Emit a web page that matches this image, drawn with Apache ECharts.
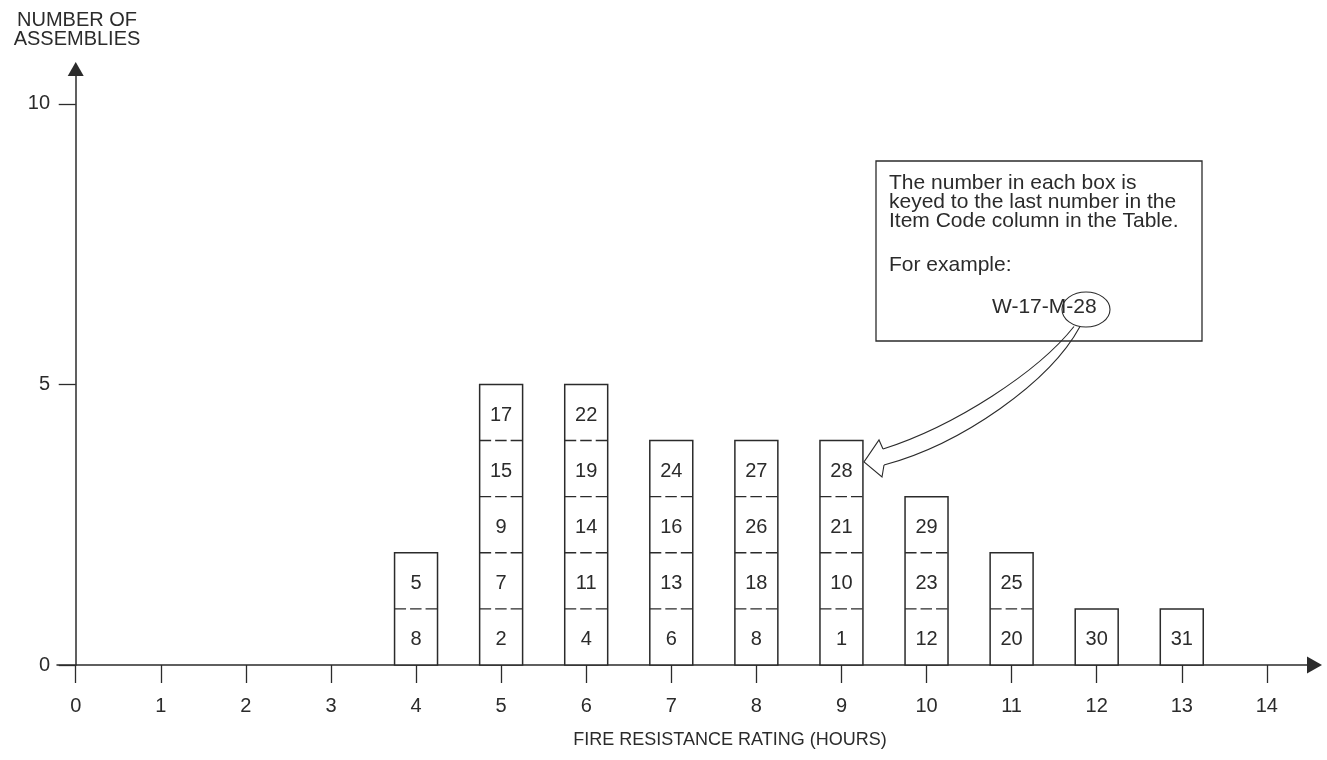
<!DOCTYPE html>
<html>
<head>
<meta charset="utf-8">
<script src="https://cdn.jsdelivr.net/npm/echarts@6/dist/echarts.min.js"></script>
<style>
  html, body { margin: 0; padding: 0; background: #fff; }
  #chart { width: 1327px; height: 760px; }
</style>
</head>
<body>
<div id="chart"></div>
<script>
// fire resistance rating (hours) of each column
var hours = [4, 5, 6, 7, 8, 9, 10, 11, 12, 13];
// numbers written in the boxes, bottom box first
var boxNumbers = [
  [8, 5],
  [2, 7, 9, 15, 17],
  [4, 11, 14, 19, 22],
  [6, 13, 16, 24],
  [8, 18, 26, 27],
  [1, 10, 21, 28],
  [12, 23, 29],
  [20, 25],
  [30],
  [31]
];
var xTicks = [0, 1, 2, 3, 4, 5, 6, 7, 8, 9, 10, 11, 12, 13, 14];
var yTicks = [0, 5, 10];

var FONT = '"Liberation Sans", Arial, Helvetica, sans-serif';
var INK = '#2b2b2b';

var chart = echarts.init(document.getElementById('chart'));

// one column of stacked boxes per rating
function renderBoxes(params, api) {
  var x = api.value(0);
  var n = api.value(1);
  var nums = boxNumbers[params.dataIndex];
  var w = api.size([0.505, 0])[0];
  var base = api.coord([x, 0]);
  var top = api.coord([x, n]);
  var left = base[0] - w / 2;
  var kids = [{
    type: 'rect',
    shape: { x: left, y: top[1], width: w, height: base[1] - top[1] },
    style: { fill: '#fff', stroke: INK, lineWidth: 1.5 }
  }];
  for (var i = 1; i < n; i++) {
    var p = api.coord([x, i]);
    kids.push({
      type: 'line',
      shape: { x1: left, y1: p[1], x2: left + w, y2: p[1] },
      style: { stroke: INK, lineWidth: 1.3, lineDash: [11.5, 4] }
    });
  }
  for (i = 0; i < n; i++) {
    var c = api.coord([x, i + 0.5]);
    kids.push({
      type: 'text',
      x: c[0], y: c[1] + 3,
      style: { text: String(nums[i]), fill: INK, font: '20px ' + FONT, align: 'center', verticalAlign: 'middle' }
    });
  }
  return { type: 'group', children: kids };
}

var option = {
  backgroundColor: '#fff',
  animation: false,
  grid: { left: 57, right: 12.5, top: 69, bottom: 95, containLabel: false },
  xAxis: {
    type: 'value',
    min: -0.22,
    max: 14.56,
    splitLine: { show: false },
    axisLine: {
      onZero: true,
      lineStyle: { color: INK, width: 1.5 },
      symbol: ['none', 'triangle'],
      symbolSize: [17, 15]
    },
    axisTick: { customValues: xTicks, length: 18, lineStyle: { color: INK, width: 1.3 } },
    axisLabel: { customValues: xTicks, margin: 31, color: INK, fontSize: 20, fontFamily: FONT }
  },
  yAxis: {
    type: 'value',
    min: 0,
    max: 10.62,
    splitLine: { show: false },
    axisLine: {
      onZero: true,
      lineStyle: { color: INK, width: 1.5 },
      symbol: ['none', 'triangle'],
      symbolSize: [16, 14]
    },
    axisTick: { customValues: yTicks, length: 17, lineStyle: { color: INK, width: 1.3 } },
    axisLabel: { customValues: yTicks, margin: 7, color: INK, fontSize: 20, fontFamily: FONT }
  },
  series: [{
    type: 'custom',
    renderItem: renderBoxes,
    data: hours.map(function (h, i) { return [h, boxNumbers[i].length]; }),
    encode: { x: 0, y: 1 },
    z: 1
  }],
  graphic: [
    // axis titles
    {
      type: 'text', x: 77, y: 30,
      style: { text: 'NUMBER OF\nASSEMBLIES', font: '20px ' + FONT, fill: INK, align: 'center', verticalAlign: 'middle', lineHeight: 19.5 }
    },
    {
      type: 'text', x: 730, y: 740,
      style: { text: 'FIRE RESISTANCE RATING (HOURS)', font: '18px ' + FONT, fill: INK, align: 'center', verticalAlign: 'middle' }
    },
    // note box
    {
      type: 'rect', shape: { x: 876, y: 161, width: 326, height: 180 },
      style: { fill: '#fff', stroke: INK, lineWidth: 1.3 }
    },
    {
      type: 'text', x: 889, y: 174,
      style: {
        text: 'The number in each box is\nkeyed to the last number in the\nItem Code column in the Table.',
        font: '21px ' + FONT, fill: INK, lineHeight: 19, verticalAlign: 'top'
      }
    },
    {
      type: 'text', x: 889, y: 265,
      style: { text: 'For example:', font: '21px ' + FONT, fill: INK, verticalAlign: 'middle' }
    },
    {
      type: 'text', x: 992, y: 307,
      style: { text: 'W-17-M-28', font: '21px ' + FONT, fill: INK, verticalAlign: 'middle' }
    },
    {
      type: 'ellipse', shape: { cx: 1086, cy: 309.5, rx: 24, ry: 17.5 },
      style: { fill: 'none', stroke: INK, lineWidth: 1.1 }
    },
    // hollow curved arrow to box 28
    {
      type: 'bezierCurve',
      shape: { x1: 1074, y1: 326.5, cpx1: 1038, cpy1: 372, cpx2: 955, cpy2: 426, x2: 883, y2: 449 },
      style: { fill: 'none', stroke: INK, lineWidth: 1.1 }
    },
    {
      type: 'bezierCurve',
      shape: { x1: 1080, y1: 326.5, cpx1: 1050, cpy1: 382, cpx2: 962, cpy2: 444, x2: 884, y2: 465 },
      style: { fill: 'none', stroke: INK, lineWidth: 1.1 }
    },
    {
      type: 'polyline',
      shape: { points: [[883, 449], [879, 440], [864, 462], [882, 477], [884, 465]] },
      style: { fill: 'none', stroke: INK, lineWidth: 1.1 }
    }
  ]
};

chart.setOption(option);
</script>
</body>
</html>
